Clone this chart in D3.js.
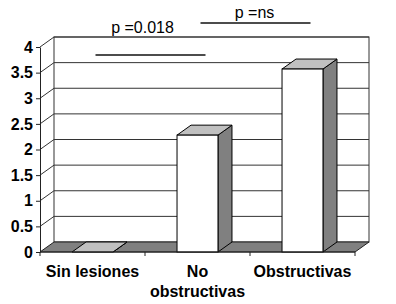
<!DOCTYPE html>
<html>
<head>
<meta charset="utf-8">
<script src="https://cdn.jsdelivr.net/npm/d3@7"></script>
<style>
body { margin: 0; background: #fff; }
</style>
</head>
<body>
<script>
var categories = ["Sin lesiones", "No\nobstructivas", "Obstructivas"];
var values = [0, 2.28, 3.57];
var yTicks = [0, 0.5, 1, 1.5, 2, 2.5, 3, 3.5, 4];
var pLabels = ["p =0.018", "p =ns"];
var pPairs = [[0, 1], [1, 2]];

var w = 396, h = 304;
var dx = 14, dy = -10; // depth of the 3d box
var font = "'Liberation Sans', Arial, sans-serif";

var svg = d3.select("body").append("svg").attr("width", w).attr("height", h);

var xScale = d3.scaleBand()
    .domain(categories)
    .range([40, 355])
    .paddingInner(0.61)
    .paddingOuter(0.305);

var yScale = d3.scaleLinear()
    .domain([0, 4])
    .range([252, 47]);

var x0 = 40, x1 = 355, y0 = yScale(0), yTop = yScale(4);
var bw = xScale.bandwidth();

// back wall
svg.append("rect")
    .attr("x", x0 + dx).attr("y", yTop + dy)
    .attr("width", x1 - x0).attr("height", y0 - yTop)
    .attr("fill", "#fff").attr("stroke", "#333");

// gridlines: side wall diagonal + back wall
svg.selectAll(".grid")
    .data(yTicks.slice(1))
    .enter().append("polyline")
    .attr("points", d => [[x0, yScale(d)], [x0 + dx, yScale(d) + dy], [x1 + dx, yScale(d) + dy]].join(" "))
    .attr("fill", "none")
    .attr("stroke", "#333");

// floor
svg.append("polygon")
    .attr("points", [[x0, y0], [x1, y0], [x1 + dx, y0 + dy], [x0 + dx, y0 + dy]].join(" "))
    .attr("fill", "#808080")
    .attr("stroke", "#222");

// y axis
var yAxis = d3.axisLeft(yScale)
    .tickValues(yTicks)
    .tickSize(4)
    .tickSizeOuter(0)
    .tickFormat(d => String(d));

var gy = svg.append("g")
    .attr("transform", "translate(" + x0 + ",0)")
    .call(yAxis);
gy.selectAll("path, line").attr("stroke", "#222");
gy.selectAll("text")
    .attr("font-family", font)
    .attr("font-size", "16px")
    .attr("font-weight", "bold")
    .attr("fill", "#000");

// bars
var bars = svg.selectAll(".bar")
    .data(values)
    .enter().append("g");

bars.append("polygon") // side
    .attr("points", (d, i) => {
        var bx = xScale(categories[i]) + bw, by = yScale(d);
        return [[bx, by], [bx, y0], [bx + dx, y0 + dy], [bx + dx, by + dy]].join(" ");
    })
    .attr("fill", "#808080").attr("stroke", "#000");

bars.append("polygon") // top
    .attr("points", (d, i) => {
        var bx = xScale(categories[i]), by = yScale(d);
        return [[bx, by], [bx + bw, by], [bx + bw + dx, by + dy], [bx + dx, by + dy]].join(" ");
    })
    .attr("fill", "#c0c0c0").attr("stroke", "#000");

bars.append("rect") // front
    .attr("x", (d, i) => xScale(categories[i]))
    .attr("y", d => yScale(d))
    .attr("width", bw)
    .attr("height", d => y0 - yScale(d))
    .attr("fill", "#fff").attr("stroke", "#000");

// x axis: front edge, ticks at category boundaries
svg.append("line")
    .attr("x1", x0).attr("x2", x1).attr("y1", y0).attr("y2", y0)
    .attr("stroke", "#222");

svg.selectAll(".xtick")
    .data(d3.range(categories.length + 1))
    .enter().append("line")
    .attr("x1", i => x0 + i * xScale.step())
    .attr("x2", i => x0 + i * xScale.step())
    .attr("y1", y0).attr("y2", y0 + 4)
    .attr("stroke", "#222");

svg.selectAll(".xlabel")
    .data(categories)
    .enter().append("text")
    .attr("x", d => xScale(d) + bw / 2)
    .attr("y", 277)
    .attr("text-anchor", "middle")
    .attr("font-family", font)
    .attr("font-size", "16px")
    .attr("font-weight", "bold")
    .selectAll("tspan")
    .data(d => d.split("\n").map(s => [d, s]))
    .enter().append("tspan")
    .attr("x", d => xScale(d[0]) + bw / 2)
    .attr("dy", (d, i) => i ? 20 : 0)
    .text(d => d[1]);

// p-value annotations
var lineY = [55, 23], textY = [33, 18], textShift = [-8, -1];
pPairs.forEach((p, k) => {
    var xa = xScale(categories[p[0]]) + bw / 2 + 3;
    var xb = xScale(categories[p[1]]) + bw / 2 + 8;
    svg.append("line")
        .attr("x1", xa).attr("x2", xb)
        .attr("y1", lineY[k]).attr("y2", lineY[k])
        .attr("stroke", "#111").attr("stroke-width", 1.5);
    svg.append("text")
        .attr("x", (xa + xb) / 2 + textShift[k])
        .attr("y", textY[k])
        .attr("text-anchor", "middle")
        .attr("font-family", font)
        .attr("font-size", "16px")
        .text(pLabels[k]);
});
</script>
</body>
</html>
